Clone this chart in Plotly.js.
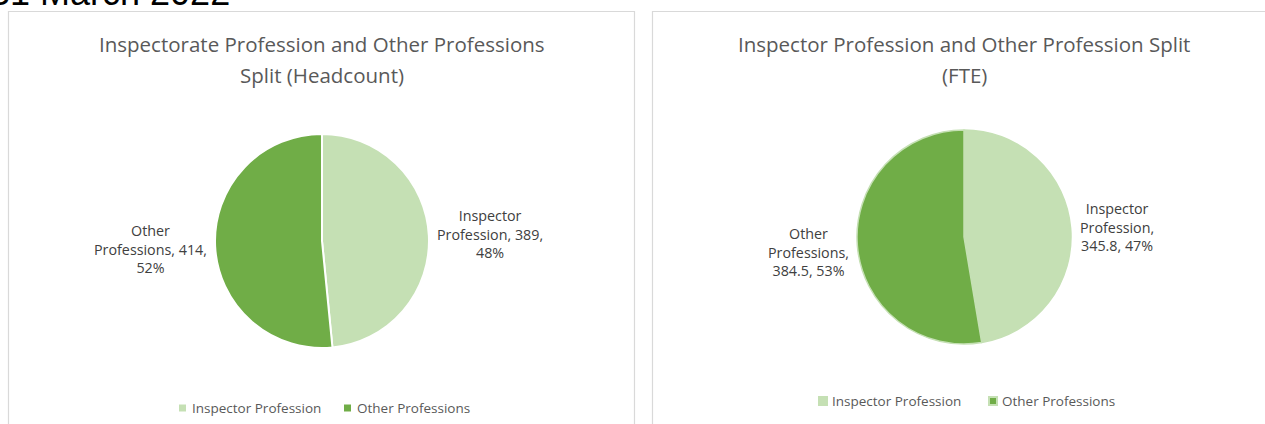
<!DOCTYPE html>
<html>
<head>
<meta charset="utf-8">
<script src="https://cdn.plot.ly/plotly-3.0.1.min.js"></script>
<style>html,body{margin:0;padding:0;background:#fff;}#chart{width:1265px;height:424px;}</style>
</head>
<body>
<div id="chart"></div>
<script>
// Data
const categories = ["Inspector Profession", "Other Professions"];
const headcountValues = [389, 414];
const fteValues = [345.8, 384.5];
const colors = ["#C5E0B4", "#70AD47"];
const headcountTitleLines = ["Inspectorate Profession and Other Professions", "Split (Headcount)"];
const fteTitleLines = ["Inspector Profession and Other Profession Split", "(FTE)"];
const pageHeading = "31 March 2022";

const W = 1265, H = 424;
const px = x => x / W;
const py = y => 1 - y / H;

function pct(vals, i) {
  const s = vals.reduce((a, b) => a + b, 0);
  return Math.round(vals[i] / s * 100) + "%";
}

function pieTrace(vals, cx, cy, r, lineColor, lineWidth) {
  return {
    type: "pie",
    labels: categories,
    values: vals,
    sort: false,
    direction: "clockwise",
    rotation: 0,
    textinfo: "none",
    hoverinfo: "label+value+percent",
    showlegend: false,
    marker: {colors: colors, line: {color: lineColor, width: lineWidth}},
    domain: {x: [px(cx - r), px(cx + r)], y: [py(cy + r), py(cy - r)]}
  };
}

const traces = [
  pieTrace(headcountValues, 322, 241, 107, "#FFFFFF", 2),
  pieTrace(fteValues, 964, 237, 107, "#C5E0B4", 1.5)
];

const labelFont = {family: "Open Sans, Noto Sans, sans-serif", size: 14.3, color: "#404040"};
const legendFont = {family: "Open Sans, Noto Sans, sans-serif", size: 13.5, color: "#595959"};
const titleFont = {family: "Open Sans, Noto Sans, sans-serif", size: 20.5, color: "#595959"};

const fmt = v => String(v);

const annotations = [
  {text: pageHeading, x: px(-12), y: py(-7), xanchor: "left", yanchor: "middle",
   font: {family: "Liberation Sans, Arial, sans-serif", size: 36, color: "#000"}},
  {text: headcountTitleLines[0], x: px(322), y: py(44), xanchor: "center", yanchor: "middle", font: titleFont},
  {text: headcountTitleLines[1], x: px(322), y: py(75), xanchor: "center", yanchor: "middle", font: titleFont},
  {text: fteTitleLines[0], x: px(964), y: py(44), xanchor: "center", yanchor: "middle", font: titleFont},
  {text: fteTitleLines[1], x: px(964), y: py(75), xanchor: "center", yanchor: "middle", font: titleFont},
  // left pie labels
  {text: "Other<br>Professions, " + fmt(headcountValues[1]) + ",<br>" + pct(headcountValues, 1),
   x: px(150), y: py(249), xanchor: "center", yanchor: "middle", font: labelFont},
  {text: categories[0].split(" ")[0] + "<br>" + categories[0].split(" ")[1] + ", " + fmt(headcountValues[0]) + ",<br>" + pct(headcountValues, 0),
   x: px(490), y: py(234), xanchor: "center", yanchor: "middle", font: labelFont},
  // right pie labels
  {text: "Other<br>Professions,<br>" + fmt(fteValues[1]) + ", " + pct(fteValues, 1),
   x: px(808), y: py(252), xanchor: "center", yanchor: "middle", font: labelFont},
  {text: categories[0].split(" ")[0] + "<br>" + categories[0].split(" ")[1] + ",<br>" + fmt(fteValues[0]) + ", " + pct(fteValues, 0),
   x: px(1117), y: py(227), xanchor: "center", yanchor: "middle", font: labelFont},
  // legends
  {text: categories[0], x: px(190), y: py(408), xanchor: "left", yanchor: "middle", font: legendFont},
  {text: categories[1], x: px(355), y: py(408), xanchor: "left", yanchor: "middle", font: legendFont},
  {text: categories[0], x: px(830), y: py(401), xanchor: "left", yanchor: "middle", font: legendFont},
  {text: categories[1], x: px(1000), y: py(401), xanchor: "left", yanchor: "middle", font: legendFont}
].map(a => Object.assign({xref: "paper", yref: "paper", showarrow: false}, a));

const shapes = [
  {type: "rect", x0: px(8.5), x1: px(634.5), y0: py(440), y1: py(11.5), line: {color: "#D9D9D9", width: 1.2}},
  {type: "rect", x0: px(652.5), x1: px(1270), y0: py(440), y1: py(11.5), line: {color: "#D9D9D9", width: 1.2}},
  // legend swatches
  {type: "rect", x0: px(179), x1: px(186), y0: py(411.5), y1: py(404.5), fillcolor: colors[0], line: {width: 0}},
  {type: "rect", x0: px(344), x1: px(351), y0: py(411.5), y1: py(404.5), fillcolor: colors[1], line: {width: 0}},
  {type: "rect", x0: px(818), x1: px(828), y0: py(406), y1: py(396), fillcolor: colors[0], line: {width: 0}},
  {type: "rect", x0: px(988), x1: px(998), y0: py(406), y1: py(396), fillcolor: colors[0], line: {width: 0}},
  {type: "rect", x0: px(990), x1: px(996), y0: py(404), y1: py(398), fillcolor: colors[1], line: {width: 0}}
].map(s => Object.assign({xref: "paper", yref: "paper"}, s));

const layout = {
  width: W, height: H,
  margin: {l: 0, r: 0, t: 0, b: 0},
  paper_bgcolor: "#FFFFFF",
  showlegend: false,
  annotations: annotations,
  shapes: shapes
};

Plotly.newPlot("chart", traces, layout, {displayModeBar: false, staticPlot: true});
</script>
</body>
</html>
